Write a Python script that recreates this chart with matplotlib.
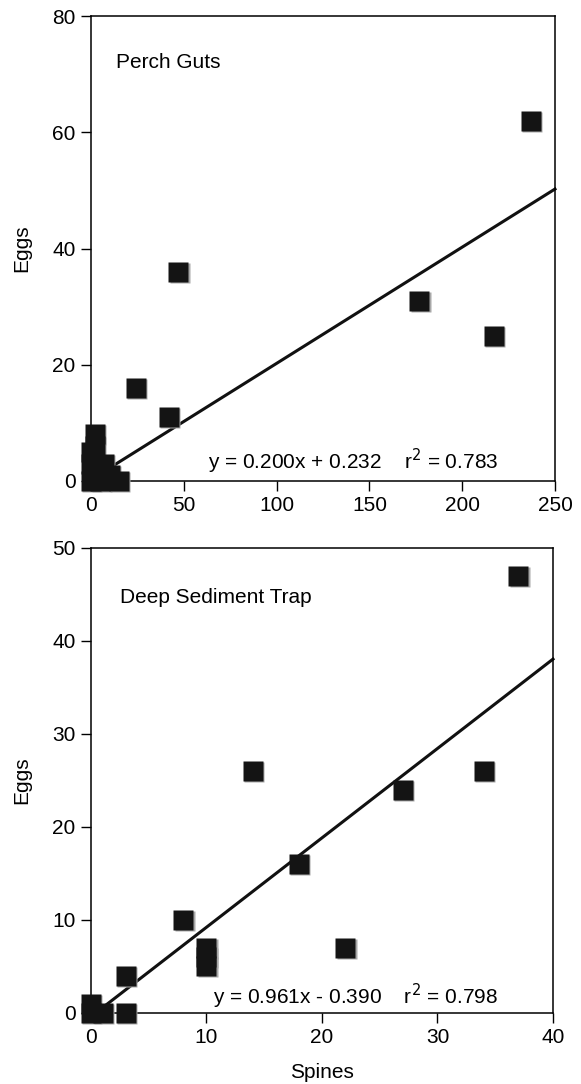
import numpy as np
import matplotlib.pyplot as plt
import matplotlib.transforms as mtransforms

plt.rcParams['font.family'] = ['Liberation Sans', 'DejaVu Sans']

# Perch guts data (spines, eggs)
perch_spines = [237, 177, 217, 47, 24, 42, 2, 0, 2, 0, 7, 0, 5, 10, 15]
perch_eggs = [62, 31, 25, 36, 16, 11, 8, 5, 6, 3, 3, 0, 0, 1, 0]
perch_slope, perch_icpt = 0.200, 0.232
perch_label = 'y = 0.200x + 0.232    r$^2$ = 0.783'

# Deep sediment trap data
trap_spines = [37, 34, 27, 14, 18, 22, 8, 10, 10, 10, 3, 3, 0, 0, 1]
trap_eggs = [47, 26, 24, 26, 16, 7, 10, 7, 6, 5, 4, 0, 1, 0, 0]
trap_slope, trap_icpt = 0.961, -0.390
trap_label = 'y = 0.961x - 0.390    r$^2$ = 0.798'

FS = 15

fig = plt.figure(figsize=(5.81, 10.84), dpi=100)
ax1 = fig.add_axes([0.1566, 0.5563, 0.7986, 0.4289])
ax2 = fig.add_axes([0.1566, 0.0655, 0.7952, 0.4290])


def panel(ax, xs, ys, slope, icpt, xmax, ymax, xstep, ystep, title, title_xy, eq, eq_xy):
    xl = np.array([0, xmax])
    ax.plot(xl, slope * xl + icpt, color='#111111', lw=2.2, zorder=2, clip_on=False)
    shadow = mtransforms.offset_copy(ax.transData, fig=fig, x=1.5, y=-1, units='dots')
    ax.plot(xs, ys, 's', ms=14.5, color='#a8a8a8', mec='none', transform=shadow,
            zorder=3, clip_on=False)
    ax.plot(xs, ys, 's', ms=14.5, color='#141414', mec='none', zorder=4, clip_on=False)
    ax.set_xlim(0, xmax)
    ax.set_ylim(0, ymax)
    ax.set_xticks(np.arange(0, xmax + 1, xstep))
    ax.set_yticks(np.arange(0, ymax + 1, ystep))
    ax.tick_params(direction='out', length=7, width=1, labelsize=FS, pad=4)
    for s in ax.spines.values():
        s.set_linewidth(1.1)
    ax.set_ylabel('Eggs', fontsize=FS, labelpad=15)
    ax.text(title_xy[0], title_xy[1], title, fontsize=FS, va='center')
    ax.text(eq_xy[0], eq_xy[1], eq, fontsize=FS, va='center')


panel(ax1, perch_spines, perch_eggs, perch_slope, perch_icpt, 250, 80, 50, 20,
      'Perch Guts', (13.5, 72), perch_label, (63, 3.4))
panel(ax2, trap_spines, trap_eggs, trap_slope, trap_icpt, 40, 50, 10, 10,
      'Deep Sediment Trap', (2.5, 44.7), trap_label, (10.6, 1.8))
ax2.set_xlabel('Spines', fontsize=FS, labelpad=11)

fig.savefig('out.png', dpi=100)
